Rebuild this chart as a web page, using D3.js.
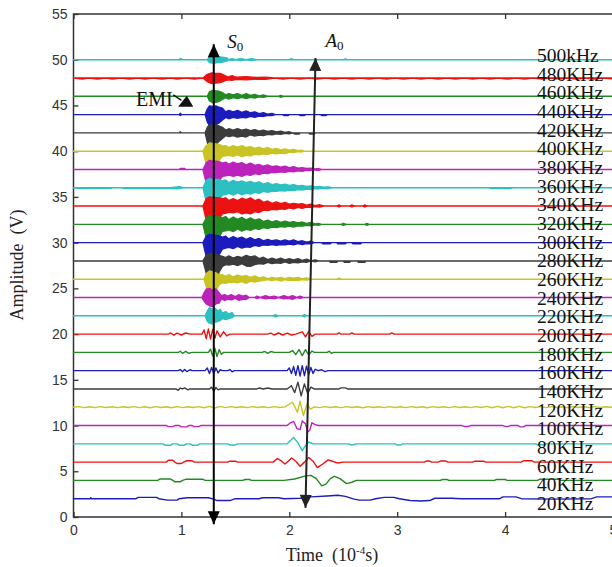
<!DOCTYPE html>
<html>
<head>
<meta charset="utf-8">
<script src="https://cdn.jsdelivr.net/npm/d3@7"></script>
<style>
  html, body { margin: 0; padding: 0; background: #fff; }
  svg { display: block; }
</style>
</head>
<body>
<svg id="chart" width="612" height="567"></svg>
<script>
// ---- Data -------------------------------------------------------------
// Excitation frequencies (bottom to top) and the vertical offset of each record (V)
const freqLabels = ["20KHz","40KHz","60KHz","80KHz","100KHz","120KHz","140KHz","160KHz",
  "180KHz","200KHz","220KHz","240KHz","260KHz","280KHz","300KHz","320KHz","340KHz",
  "360KHz","380KHz","400KHz","420KHz","440KHz","460KHz","480KHz","500kHz"];
const offsets = [2,4,6,8,10,12,14,16,18,20,22,24,26,28,30,32,34,36,38,40,42,44,46,48,50];
const xTicks = [0,1,2,3,4,5];
const yTicks = [0,5,10,15,20,25,30,35,40,45,50,55];

// Each record: [time (1e-4 s), deviation (V)] or [time, upper, lower] where the
// high-frequency burst is too dense to resolve into single cycles.
const w20 = [[0,0],[0.155,0],[0.16,0.12],[0.165,0],[0.58,0],[0.6,0.15],[0.77,0.15],[0.79,0],
  [0.87,-0.15],[0.96,-0.15],[0.98,0],[1.05,0.1],[1.25,0.1],[1.3,-0.05],[1.33,-0.2],[1.45,-0.2],
  [1.5,0],[1.72,0],[1.75,0.1],[1.9,0.1],[1.95,0],[2.1,0.05],[2.2,0.2],[2.35,0.3],[2.45,0.38],
  [2.52,0.25],[2.6,-0.05],[2.65,-0.15],[2.75,-0.15],[2.8,0],[2.88,0.15],[2.97,0.15],[3.02,0],
  [3.12,-0.2],[3.22,-0.25],[3.3,-0.2],[3.35,0.05],[3.5,0.05],[3.6,0],[3.95,0],[3.98,0.2],
  [4.1,0.2],[4.15,0],[4.45,-0.05],[4.8,0],[4.85,0.2],[5,0.2]];
const w40 = [[0,0],[0.78,0],[0.8,0.15],[0.9,0.15],[0.92,0],[0.94,-0.15],[0.99,-0.15],[1.01,0],
  [1.04,0.12],[1.2,0.12],[1.22,0],[1.57,0],[1.59,0.1],[1.63,0.1],[1.65,0],[1.95,0],[2.05,0.15],
  [2.15,0.5],[2.2,0.55],[2.25,0.2],[2.3,-0.6],[2.34,-0.4],[2.38,0.2],[2.42,0.45],[2.47,0.2],
  [2.53,-0.35],[2.58,-0.2],[2.62,0],[3.4,0],[3.42,0.1],[3.46,0.1],[3.48,0],[3.9,0],[3.92,0.1],
  [4.0,0.1],[4.02,0],[4.3,0],[4.32,0.12],[4.5,0.12],[4.52,0],[5,0]];
const w60 = [[0,0],[0.86,0],[0.88,0.2],[0.92,0.2],[0.94,0],[0.96,-0.15],[1.0,-0.15],[1.02,0],
  [1.05,0.15],[1.1,0.15],[1.12,0],[1.43,0],[1.45,0.1],[1.5,0.1],[1.52,0],[1.85,0],[1.89,0.4],
  [1.93,0.1],[1.96,-0.2],[1.99,0.1],[2.02,0.45],[2.06,0.1],[2.1,-0.45],[2.14,0],[2.18,0.5],
  [2.22,0.1],[2.26,-0.6],[2.31,-0.2],[2.36,0.25],[2.4,0.1],[2.45,-0.1],[2.5,0],[3.25,0],
  [3.27,0.12],[3.3,0.12],[3.32,0],[3.38,0],[3.4,0.12],[3.45,0.12],[3.47,0],[3.7,0],[3.72,0.1],
  [3.8,0.1],[3.82,0],[4.15,0],[4.17,0.15],[4.25,0.15],[4.27,0],[5,0]];
const w80 = [[0,0],[0.83,0],[0.85,-0.15],[0.9,-0.15],[0.92,0],[0.96,0],[0.98,-0.15],[1.03,-0.15],
  [1.05,0],[1.08,0],[1.1,-0.15],[1.15,-0.15],[1.17,0],[1.43,0],[1.45,-0.12],[1.5,-0.12],[1.52,0],
  [1.98,0],[2.04,0.7],[2.08,0.1],[2.12,-0.75],[2.15,-0.2],[2.18,0.2],[2.22,0],[2.55,0],
  [2.57,-0.1],[2.6,-0.1],[2.62,0],[2.98,0],[3.0,-0.12],[3.03,-0.12],[3.05,0],[4.28,0],
  [4.3,-0.1],[4.35,-0.1],[4.37,0],[5,0]];
const w100 = [[0,0],[0.86,0],[0.88,-0.12],[0.92,-0.12],[0.94,0],[0.98,0],[1.0,-0.15],[1.05,-0.15],
  [1.07,0],[1.1,0],[1.12,-0.12],[1.16,-0.12],[1.18,0],[1.98,0],[2.01,0.3],[2.04,0.45],
  [2.07,-0.3],[2.1,-0.45],[2.12,0.5],[2.15,0.2],[2.17,-0.7],[2.19,-0.5],[2.21,0.3],[2.24,0.1],
  [2.27,0],[3.6,0],[3.62,-0.1],[3.66,-0.1],[3.68,0],[3.98,0],[4.0,-0.1],[4.03,-0.1],[4.05,0],
  [4.12,0],[4.14,-0.15],[4.17,-0.15],[4.19,0],[5,0]];
const w120 = [[0,0],[0.05,0.07],[0.1,-0.04],[0.15,0.06],[0.2,-0.04],[0.25,0.07],[0.3,-0.03],
  [0.36,0.06],[0.41,-0.04],[0.46,0.06],[0.51,-0.03],[0.56,0.07],[0.61,-0.04],[0.66,0.06],
  [0.71,-0.05],[0.76,0.07],[0.81,-0.03],[0.86,0.06],[0.91,-0.05],[0.96,0.07],[1.01,-0.04],
  [1.06,0.06],[1.11,-0.03],[1.16,0.07],[1.21,-0.05],[1.26,0.1],[1.31,-0.08],[1.36,0.09],
  [1.41,-0.04],[1.46,0.07],[1.51,-0.03],[1.56,0.06],[1.61,-0.04],[1.66,0.07],[1.71,-0.03],
  [1.76,0.06],[1.81,-0.04],[1.86,0.07],[1.91,-0.03],[1.96,0.04],[2.03,0.55],[2.075,-0.55],
  [2.1,0.65],[2.13,-0.9],[2.165,0.35],[2.195,-0.2],[2.23,0.04],[2.28,-0.04],[2.33,0.07],
  [2.38,-0.03],[2.43,0.06],[2.48,-0.04],[2.53,0.07],[2.58,-0.03],[2.63,0.06],[2.68,-0.05],
  [2.73,0.07],[2.78,-0.03],[2.83,0.06],[2.88,-0.04],[2.93,0.07],[2.98,-0.03],[3.03,0.06],
  [3.08,-0.04],[3.13,0.07],[3.18,-0.03],[3.23,0.06],[3.28,-0.05],[3.33,0.07],[3.38,-0.03],
  [3.43,0.06],[3.48,-0.04],[3.53,0.07],[3.58,-0.03],[3.63,0.06],[3.68,-0.04],[3.73,0.07],
  [3.78,-0.03],[3.83,0.09],[3.88,-0.05],[3.93,0.09],[3.98,-0.06],[4.03,0.09],[4.08,-0.05],
  [4.13,0.09],[4.18,-0.06],[4.23,0.07],[4.28,-0.03],[4.33,0.07],[4.38,-0.04],[4.43,0.07],
  [4.48,-0.03],[4.53,0.06],[4.58,-0.04],[4.63,0.07],[4.68,-0.03],[4.73,0.06],[4.78,-0.04],
  [4.83,0.07],[4.88,-0.03],[4.93,0.06],[5,0]];
const w140 = [[0,0],[0.95,0],[0.97,-0.15],[0.99,0.1],[1.01,0],[1.03,0.12],[1.06,-0.1],[1.08,0],
  [1.26,0],[1.28,0.2],[1.3,-0.25],[1.32,0.15],[1.34,-0.1],[1.36,0],[1.7,0],[1.72,0.1],[1.76,0],
  [1.8,0.1],[1.84,0],[1.98,0],[2.02,0.35],[2.05,-0.4],[2.08,0.75],[2.11,-0.75],[2.14,0.55],
  [2.17,-0.5],[2.2,0.2],[2.23,0],[2.46,0],[2.48,0.12],[2.52,0.12],[2.54,0],[5,0]];
const w160 = [[0,0],[0.97,0],[0.99,0.12],[1.01,-0.12],[1.03,0.12],[1.05,-0.1],[1.08,0.1],[1.1,0],
  [1.22,0],[1.24,0.3],[1.26,-0.3],[1.28,0.35],[1.3,-0.35],[1.32,0.3],[1.34,-0.25],[1.36,0.1],
  [1.38,0],[1.43,0],[1.45,0.12],[1.47,-0.12],[1.49,0],[1.98,0],[2.0,0.3],[2.02,-0.3],[2.04,0.45],
  [2.06,-0.5],[2.08,0.55],[2.1,-0.6],[2.12,0.55],[2.14,-0.55],[2.16,0.5],[2.18,-0.45],[2.2,0.35],
  [2.22,-0.3],[2.24,0.15],[2.27,0],[2.3,0.1],[2.33,-0.1],[2.36,0],[5,0]];
const w180 = [[0,0],[0.97,0],[0.99,0.12],[1.01,-0.1],[1.04,0.12],[1.07,-0.1],[1.1,0],[1.25,0],
  [1.27,0.35],[1.29,-0.4],[1.31,0.45],[1.33,-0.45],[1.35,0.3],[1.37,-0.2],[1.39,0],[1.75,0],
  [1.77,0.1],[1.8,-0.1],[1.83,0.1],[1.86,0],[2.0,0],[2.03,0.2],[2.06,-0.25],[2.09,0.3],
  [2.12,-0.35],[2.15,0.3],[2.18,-0.3],[2.21,0.15],[2.23,0],[2.35,0],[2.37,0.12],[2.39,-0.1],
  [2.41,0],[5,0]];
const w200 = [[0,0],[0.88,0],[0.9,0.12],[0.93,-0.12],[0.96,0.1],[1.0,-0.1],[1.04,0.12],[1.08,0],
  [1.19,0],[1.21,0.45],[1.23,-0.5],[1.25,0.55],[1.27,-0.55],[1.29,0.5],[1.31,-0.45],[1.33,0.35],
  [1.36,-0.3],[1.39,0.25],[1.42,-0.2],[1.45,0],[1.8,0],[1.83,0.1],[1.86,-0.1],[1.9,0.12],
  [1.94,-0.1],[1.98,0.1],[2.02,-0.1],[2.06,0],[2.12,0.25],[2.15,-0.3],[2.18,0.3],[2.21,-0.25],
  [2.24,0],[2.44,0],[2.46,0.15],[2.48,0],[2.56,0],[2.58,0.12],[2.6,0],[2.93,0],[2.95,0.12],
  [2.97,0],[5,0]];
const w220 = [[0,0,0],[1.22,0,0],[1.24,0.5,-0.6],[1.26,0.9,-0.8],[1.29,0.7,-0.9],[1.31,0.85,-0.7],
  [1.34,0.5,-0.6],[1.36,0.7,-0.5],[1.38,0.3,-0.3],[1.41,0.45,-0.4],[1.44,0.2,-0.3],[1.47,0.35,-0.2],
  [1.49,0,0],[1.85,0,0],[1.87,0.12,-0.12],[1.9,0,0],[2.12,0,0],[2.14,0.12,-0.12],[2.16,0,0],[5,0,0]];
const w240 = [[0,0,0],[1.19,0,0],[1.21,0.5,-0.4],[1.23,0.9,-0.7],[1.26,1.0,-0.9],[1.29,0.8,-1.0],
  [1.32,0.95,-0.7],[1.35,0.5,-0.6],[1.37,0.2,-0.15],[1.4,0.3,-0.3],[1.43,0.15,-0.2],[1.46,0.3,-0.25],
  [1.5,0.1,-0.1],[1.53,0.3,-0.3],[1.57,0.15,-0.2],[1.6,0.25,-0.2],[1.63,0,0],[1.68,0,0],
  [1.7,0.15,-0.12],[1.73,0,0],[1.78,0.2,-0.15],[1.82,0.05,-0.05],[1.86,0.15,-0.15],[1.9,0,0],
  [1.95,0.2,-0.15],[1.99,0.05,-0.1],[2.03,0.2,-0.2],[2.07,0,0],[2.1,0.15,-0.1],[2.13,0,0],[5,0,0]];
const w260 = [[0,0,0],[1.21,0,0],[1.23,0.6,-0.8],[1.26,0.9,-2.2],[1.29,0.8,-1.9],[1.32,0.7,-1.2],
  [1.35,0.45,-0.6],[1.38,0.5,-0.4],[1.41,0.3,-0.45],[1.44,0.5,-0.35],[1.48,0.25,-0.3],
  [1.52,0.45,-0.4],[1.56,0.3,-0.25],[1.6,0.4,-0.45],[1.64,0.2,-0.2],[1.68,0.35,-0.3],
  [1.72,0.15,-0.2],[1.76,0.25,-0.15],[1.8,0.05,-0.05],[1.84,0.2,-0.15],[1.88,0.1,-0.05],
  [1.92,0.2,-0.2],[1.96,0.05,-0.05],[2.0,0.2,-0.15],[2.04,0.1,-0.1],[2.08,0.2,-0.15],
  [2.12,0.05,-0.05],[2.16,0.15,-0.1],[2.2,0,0],[2.44,0,0],[2.46,0.12,0],[2.48,0,0],[5,0,0]];
const w280 = [[0,0,0],[1.2,0,0],[1.23,0.6,-1.3],[1.26,0.8,-4.5],[1.29,0.75,-4.0],[1.32,0.7,-2.5],
  [1.35,0.6,-1.2],[1.38,0.5,-0.6],[1.41,0.35,-0.4],[1.44,0.55,-0.45],[1.48,0.3,-0.35],
  [1.52,0.5,-0.5],[1.56,0.35,-0.3],[1.6,0.6,-0.55],[1.64,0.45,-0.6],[1.68,0.55,-0.4],
  [1.72,0.25,-0.3],[1.76,0.4,-0.35],[1.8,0.15,-0.15],[1.84,0.3,-0.3],[1.88,0.15,-0.2],
  [1.92,0.3,-0.25],[1.96,0.1,-0.1],[2.0,0.25,-0.25],[2.04,0.1,-0.15],[2.08,0.25,-0.2],
  [2.12,0.05,-0.1],[2.16,0.2,-0.15],[2.2,0,0],[2.24,0.12,-0.1],[2.27,0,0],[2.37,0,0],
  [2.38,0,-0.15],[2.44,0,-0.15],[2.45,0,0],[2.5,0,0],[2.51,0,-0.15],[2.56,0,-0.15],[2.57,0,0],
  [2.63,0,0],[2.64,0,-0.15],[2.7,0,-0.15],[2.71,0,0],[5,0,0]];
const w300 = [[0,0,0],[1.2,0,0],[1.23,0.7,-1.5],[1.26,0.9,-4.8],[1.29,0.85,-4.3],[1.32,0.8,-2.6],
  [1.35,0.75,-1.3],[1.38,0.6,-0.7],[1.41,0.7,-0.6],[1.44,0.4,-0.5],[1.48,0.65,-0.65],
  [1.52,0.45,-0.4],[1.56,0.6,-0.6],[1.6,0.35,-0.45],[1.64,0.55,-0.5],[1.68,0.3,-0.3],
  [1.72,0.45,-0.4],[1.76,0.2,-0.25],[1.8,0.35,-0.3],[1.84,0.2,-0.2],[1.88,0.3,-0.3],
  [1.92,0.15,-0.2],[1.96,0.3,-0.25],[2.0,0.15,-0.15],[2.04,0.3,-0.25],[2.08,0.1,-0.1],
  [2.12,0.2,-0.2],[2.16,0.05,-0.1],[2.2,0.15,-0.12],[2.23,0,0],[2.3,0,0],[2.31,0,-0.12],
  [2.38,0,-0.12],[2.39,0,0],[2.44,0,0],[2.45,0,-0.12],[2.52,0,-0.12],[2.53,0,0],[2.58,0,0],
  [2.59,0,-0.12],[2.66,0,-0.12],[2.67,0,0],[5,0,0]];
const w320 = [[0,0,0],[1.2,0,0],[1.23,0.7,-1.5],[1.26,0.95,-5.0],[1.29,0.9,-4.5],[1.32,0.85,-2.8],
  [1.35,0.8,-1.4],[1.38,0.7,-0.75],[1.41,0.85,-0.7],[1.44,0.5,-0.6],[1.48,0.8,-0.8],
  [1.52,0.55,-0.5],[1.56,0.75,-0.75],[1.6,0.5,-0.55],[1.64,0.7,-0.65],[1.68,0.45,-0.45],
  [1.72,0.6,-0.55],[1.76,0.3,-0.35],[1.8,0.45,-0.45],[1.84,0.25,-0.3],[1.88,0.4,-0.35],
  [1.92,0.2,-0.25],[1.96,0.35,-0.3],[2.0,0.2,-0.2],[2.04,0.3,-0.3],[2.08,0.15,-0.15],
  [2.12,0.25,-0.2],[2.16,0.1,-0.1],[2.2,0.2,-0.15],[2.24,0.05,-0.05],[2.27,0.1,-0.1],[2.3,0,0],
  [2.48,0,0],[2.5,0.1,-0.1],[2.53,0,0],[2.7,0,0],[2.72,0.1,-0.1],[2.74,0,0],[5,0,0]];
const w340 = [[0,0,0],[1.2,0,0],[1.23,0.8,-1.5],[1.26,1.0,-4.8],[1.29,0.95,-4.4],[1.32,0.9,-2.8],
  [1.35,0.9,-1.4],[1.38,0.8,-0.85],[1.41,0.9,-0.8],[1.44,0.6,-0.65],[1.48,0.8,-0.75],
  [1.52,0.6,-0.6],[1.56,0.85,-0.85],[1.6,0.7,-0.75],[1.64,0.9,-0.85],[1.68,0.6,-0.6],
  [1.72,0.75,-0.7],[1.76,0.4,-0.45],[1.8,0.55,-0.5],[1.84,0.3,-0.35],[1.88,0.45,-0.4],
  [1.92,0.25,-0.3],[1.96,0.4,-0.35],[2.0,0.2,-0.2],[2.04,0.3,-0.3],[2.08,0.2,-0.15],
  [2.12,0.25,-0.25],[2.16,0.1,-0.1],[2.2,0.2,-0.15],[2.24,0.05,-0.05],[2.28,0.15,-0.1],[2.32,0,0],
  [2.44,0,0],[2.46,0.12,-0.1],[2.48,0,0],[2.56,0,0],[2.58,0.12,-0.1],[2.6,0,0],[2.68,0,0],
  [2.7,0.12,-0.1],[2.72,0,0],[5,0,0]];
const w360 = [[0,0,0],[0.06,0,-0.08],[0.35,0,-0.06],[0.36,0,0],[0.45,0,0],[0.46,0,-0.08],
  [0.9,0,-0.06],[0.98,0.12,-0.1],[1.02,0,0],[1.2,0,0],[1.23,0.8,-1.5],[1.26,1.0,-4.4],
  [1.29,0.9,-4.0],[1.32,0.9,-2.6],[1.35,0.9,-1.3],[1.38,0.75,-0.8],[1.41,0.85,-0.75],
  [1.44,0.55,-0.6],[1.48,0.8,-0.8],[1.52,0.6,-0.55],[1.56,0.75,-0.75],[1.6,0.55,-0.6],
  [1.64,0.7,-0.7],[1.68,0.5,-0.5],[1.72,0.65,-0.6],[1.76,0.4,-0.4],[1.8,0.55,-0.5],
  [1.84,0.35,-0.35],[1.88,0.45,-0.4],[1.92,0.3,-0.3],[1.96,0.4,-0.35],[2.0,0.25,-0.25],
  [2.04,0.35,-0.3],[2.08,0.2,-0.2],[2.12,0.25,-0.25],[2.16,0.15,-0.15],[2.2,0.2,-0.2],
  [2.24,0.1,-0.1],[2.28,0.15,-0.12],[2.32,0.05,-0.05],[2.36,0.1,-0.1],[2.4,0,0],[3.85,0,0],
  [3.87,0,-0.08],[4.05,0,-0.08],[4.07,0,0],[5,0,0]];
const w380 = [[0,0,0],[0.98,0,0],[0.99,0.12,0],[1.03,0.12,0],[1.04,0,0],[1.2,0,0],[1.23,0.7,-1.5],
  [1.26,1.0,-4.2],[1.29,0.9,-3.8],[1.32,0.9,-2.4],[1.35,0.85,-1.2],[1.38,0.7,-0.75],
  [1.41,0.8,-0.7],[1.44,0.55,-0.6],[1.48,0.8,-0.75],[1.52,0.6,-0.6],[1.56,0.75,-0.75],
  [1.6,0.5,-0.55],[1.64,0.7,-0.65],[1.68,0.45,-0.45],[1.72,0.55,-0.55],[1.76,0.35,-0.4],
  [1.8,0.5,-0.45],[1.84,0.3,-0.3],[1.88,0.4,-0.35],[1.92,0.25,-0.25],[1.96,0.35,-0.3],
  [2.0,0.2,-0.2],[2.04,0.3,-0.25],[2.08,0.15,-0.15],[2.12,0.2,-0.2],[2.16,0.1,-0.1],
  [2.2,0.15,-0.12],[2.24,0.05,-0.05],[2.27,0.1,-0.08],[2.3,0,0],[5,0,0]];
const w400 = [[0,0,0],[1.2,0,0],[1.23,0.6,-1.4],[1.26,0.9,-3.5],[1.29,0.85,-3.1],[1.32,0.8,-2.0],
  [1.35,0.75,-1.0],[1.38,0.55,-0.55],[1.41,0.6,-0.5],[1.44,0.4,-0.45],[1.48,0.6,-0.55],
  [1.52,0.45,-0.4],[1.56,0.6,-0.6],[1.6,0.4,-0.45],[1.64,0.5,-0.5],[1.68,0.3,-0.35],
  [1.72,0.45,-0.4],[1.76,0.25,-0.3],[1.8,0.4,-0.35],[1.84,0.2,-0.2],[1.88,0.3,-0.3],
  [1.92,0.15,-0.2],[1.96,0.25,-0.25],[2.0,0.1,-0.1],[2.04,0.2,-0.15],[2.08,0.05,-0.05],
  [2.11,0.12,-0.1],[2.14,0,0],[5,0,0]];
const w420 = [[0,0,0],[0.98,0,0],[0.99,0.12,0],[1.0,0,0],[1.22,0,0],[1.24,0.6,-1.0],[1.26,0.9,-1.9],
  [1.29,0.85,-1.8],[1.32,0.85,-1.3],[1.35,0.75,-0.9],[1.38,0.6,-0.6],[1.41,0.3,-0.3],
  [1.44,0.45,-0.4],[1.48,0.3,-0.3],[1.52,0.45,-0.45],[1.56,0.3,-0.35],[1.6,0.4,-0.45],
  [1.64,0.25,-0.2],[1.68,0.35,-0.35],[1.72,0.2,-0.25],[1.76,0.3,-0.3],[1.8,0.15,-0.15],
  [1.84,0.25,-0.2],[1.88,0.1,-0.1],[1.92,0.2,-0.15],[1.96,0.05,-0.05],[2.0,0.12,-0.1],[2.03,0,0],
  [2.05,0,-0.12],[2.09,0,-0.12],[2.1,0,0],[2.18,0,0],[2.19,0,-0.12],[2.23,0,-0.12],[2.24,0,0],
  [5,0,0]];
const w440 = [[0,0,0],[0.98,0,0],[0.99,0.15,-0.1],[1.0,0,0],[1.22,0,0],[1.24,0.6,-0.8],
  [1.26,0.95,-1.2],[1.29,0.9,-1.2],[1.32,0.95,-1.1],[1.35,0.8,-0.9],[1.38,0.7,-0.6],
  [1.41,0.3,-0.3],[1.44,0.45,-0.45],[1.48,0.3,-0.3],[1.52,0.45,-0.4],[1.56,0.25,-0.3],
  [1.6,0.4,-0.35],[1.64,0.2,-0.2],[1.68,0.3,-0.3],[1.72,0.1,-0.15],[1.76,0.2,-0.2],
  [1.8,0.05,-0.1],[1.84,0.12,-0.1],[1.87,0,0],[1.94,0,0],[1.95,0,-0.1],[1.99,0,-0.1],[2.0,0,0],
  [2.09,0,0],[2.1,0,-0.1],[2.14,0,-0.1],[2.15,0,0],[2.29,0,0],[2.3,0,-0.1],[2.34,0,-0.1],
  [2.35,0,0],[5,0,0]];
const w460 = [[0,0,0],[1.24,0,0],[1.26,0.5,-0.5],[1.29,0.65,-0.7],[1.32,0.6,-0.65],[1.35,0.55,-0.55],
  [1.38,0.4,-0.35],[1.41,0.15,-0.15],[1.44,0.3,-0.3],[1.48,0.15,-0.15],[1.52,0.3,-0.25],
  [1.56,0.1,-0.1],[1.6,0.3,-0.25],[1.64,0.1,-0.1],[1.68,0.2,-0.2],[1.72,0.05,-0.05],
  [1.76,0.15,-0.1],[1.8,0,0],[1.9,0,0],[1.92,0.1,-0.1],[1.95,0,0],[5,0,0]];
const w480 = [[0,0,0],[0.08,0,-0.12],[0.14,0,0],[0.22,0,-0.1],[0.3,0,0],[0.36,0,-0.12],
  [0.44,0,0],[0.52,0,-0.12],[0.6,0,0],[0.66,0,-0.1],[0.74,0,0],[0.82,0,-0.12],[0.9,0,0],
  [0.96,0,-0.1],[1.04,0,0],[1.12,0,-0.12],[1.2,0,0],
  [1.24,0.4,-0.4],[1.28,0.55,-0.6],[1.32,0.5,-0.55],[1.36,0.5,-0.5],[1.4,0.3,-0.3],[1.43,0.1,-0.2],
  [1.47,0.25,-0.25],[1.51,0.08,-0.15],[1.6,0.15,-0.2],[1.7,0.05,-0.1],[1.78,0.1,-0.15],
  [1.86,0,0],[1.94,0,-0.12],[2.02,0,0],[2.1,0,-0.12],[2.18,0,0],[2.26,0,-0.1],[2.34,0,0],
  [2.42,0,-0.12],[2.5,0,0],[2.58,0,-0.1],[2.66,0,0],[2.74,0,-0.12],[2.82,0,0],[2.9,0,-0.1],
  [2.98,0,0],[3.06,0,-0.12],[3.14,0,0],[3.22,0,-0.1],[3.3,0,0],[3.38,0,-0.12],[3.46,0,0],
  [3.54,0,-0.1],[3.62,0,0],[3.7,0,-0.12],[3.78,0,0],[3.86,0,-0.1],[3.94,0,0],[4.02,0,-0.12],
  [4.1,0,0],[4.18,0,-0.1],[4.26,0,0],[4.34,0,-0.12],[4.42,0,0],[4.5,0,-0.1],[4.58,0,0],
  [4.66,0,-0.12],[4.74,0,0],[4.82,0,-0.1],[4.9,0,0],[5,0,-0.08]];
const w500 = [[0,0,0],[0.98,0,0],[0.99,0.15,0],[1.0,0.1,0],[1.01,0,0],[1.24,0,0],[1.26,0.3,-0.3],
  [1.3,0.35,-0.4],[1.33,0.25,-0.3],[1.36,0.3,-0.3],[1.42,0.2,-0.15],[1.44,0,0],[1.47,0.12,-0.1],
  [1.5,0,0],[1.55,0.12,-0.1],[1.6,0,0],[1.65,0.1,-0.1],[1.7,0,0],[2.0,0,0],[2.02,0.12,0],
  [2.04,0,0],[2.5,0,0],[2.52,0.1,0],[2.54,0,0],[5,0,0]];

const records = [w20,w40,w60,w80,w100,w120,w140,w160,w180,w200,w220,w240,w260,w280,w300,
  w320,w340,w360,w380,w400,w420,w440,w460,w480,w500];

// Guided-wave mode markers and the EMI pointer, in data units (time, V)
const s0Arrow = [[1.30,-0.8],[1.30,51.7]];
const a0Arrow = [[2.15,1.0],[2.243,50.2]];
const emiPointer = [[0.925,46.15],[1.0,45.55]];
const emiMark = [[1.05,46.05],[0.97,44.85],[1.11,44.85]];
const modeLabels = [{main:"S", sub:"0", t:1.425, v:51.3}, {main:"A", sub:"0", t:2.335, v:51.4}];
const emiLabel = {text:"EMI", t:0.58, v:44.95};

// ---- Drawing ----------------------------------------------------------
const palette = ["#1c1cbc","#238a23","#ec1212","#2cc0c0","#bc22bc","#c9c323","#3c3c3c"];
const svg = d3.select("#chart");
const x = d3.scaleLinear().domain([0,5]).range([73.5, 613]);
const y = d3.scaleLinear().domain([0,55]).range([517, 14]);
const serif = "'Liberation Serif','Times New Roman',serif";
const sans = "'Liberation Sans',Arial,sans-serif";

svg.append("rect").attr("width",612).attr("height",567).attr("fill","#fff");

// frame
svg.append("rect")
  .attr("x", x(0)).attr("y", y(55))
  .attr("width", x(5)-x(0)).attr("height", y(0)-y(55))
  .attr("fill","none").attr("stroke","#333").attr("stroke-width",1.5);

// axes with inward ticks
const gx = svg.append("g").attr("transform",`translate(0,${y(0)})`)
  .call(d3.axisBottom(x).tickValues(xTicks).tickFormat(d3.format("d")).tickSize(-5).tickPadding(8));
const gxTop = svg.append("g").attr("transform",`translate(0,${y(55)})`)
  .call(d3.axisTop(x).tickValues(xTicks).tickFormat("").tickSize(-5));
const gy = svg.append("g").attr("transform",`translate(${x(0)},0)`)
  .call(d3.axisLeft(y).tickValues(yTicks).tickFormat(d3.format("d")).tickSize(-5).tickPadding(6));
[gx,gxTop,gy].forEach(g => {
  g.select(".domain").remove();
  g.selectAll(".tick line").attr("stroke","#333").attr("stroke-width",1.3);
  g.selectAll("text").attr("font-family",sans).attr("font-size",14).attr("fill","#333");
});

// waveforms, top record first so lower records sit over the downward S0 swings
const area = d3.area()
  .x(p => x(p[0]))
  .y0(p => p.lo)
  .y1(p => p.hi);
const order = d3.range(records.length).reverse();
const gw = svg.append("g");
order.forEach(i => {
  const off = offsets[i];
  const pts = records[i].map(p => {
    const hi = p[1], lo = p.length > 2 ? p[2] : p[1];
    const q = [p[0]]; q.hi = y(off + hi); q.lo = y(off + lo); return q;
  });
  const c = palette[i % palette.length];
  gw.append("path").attr("d", area(pts))
    .attr("fill", c).attr("stroke", c).attr("stroke-width", 1.4)
    .attr("stroke-linejoin","round");
});

// frequency labels at the right end of each record
const labelY = d3.scaleLinear().domain([0, freqLabels.length-1]).range([510, 62]);
svg.append("g").selectAll("text").data(freqLabels).join("text")
  .attr("x", 537).attr("y", (d,i) => labelY(i))
  .attr("font-family", serif).attr("font-size", 19.5).attr("fill","#111")
  .text(d => d);

// arrows
function arrowHead(g, tip, tail, len, half, color) {
  const dx = tip[0]-tail[0], dy = tip[1]-tail[1], L = Math.hypot(dx,dy);
  const ux = dx/L, uy = dy/L, bx = tip[0]-ux*len, by = tip[1]-uy*len;
  g.append("path")
    .attr("d", `M${tip[0]},${tip[1]}L${bx-uy*half},${by+ux*half}L${bx+uy*half},${by-ux*half}Z`)
    .attr("fill", color);
}
function doubleArrow(pts, color) {
  const a = [x(pts[0][0]), y(pts[0][1])], b = [x(pts[1][0]), y(pts[1][1])];
  const g = svg.append("g");
  g.append("line").attr("x1",a[0]).attr("y1",a[1]).attr("x2",b[0]).attr("y2",b[1])
    .attr("stroke", color).attr("stroke-width", 2);
  arrowHead(g, a, b, 13, 6, color);
  arrowHead(g, b, a, 13, 6, color);
}
doubleArrow(s0Arrow, "#000");
doubleArrow(a0Arrow, "#222");

// mode labels
modeLabels.forEach(m => {
  const t = svg.append("text").attr("x", x(m.t)).attr("y", y(m.v))
    .attr("font-family", serif).attr("font-size", 19).attr("fill","#111");
  t.append("tspan").attr("font-style","italic").text(m.main);
  t.append("tspan").attr("font-size", 13).attr("dy", 3).text(m.sub);
});

// EMI annotation
svg.append("text").attr("x", x(emiLabel.t)).attr("y", y(emiLabel.v))
  .attr("font-family", serif).attr("font-size", 20).attr("fill","#111").text(emiLabel.text);
svg.append("line")
  .attr("x1", x(emiPointer[0][0])).attr("y1", y(emiPointer[0][1]))
  .attr("x2", x(emiPointer[1][0])).attr("y2", y(emiPointer[1][1]))
  .attr("stroke","#111").attr("stroke-width",1.5);
svg.append("path")
  .attr("d", d3.line().x(p => x(p[0])).y(p => y(p[1]))(emiMark) + "Z")
  .attr("fill","#111");

// axis titles
const xt = svg.append("text").attr("x", 332).attr("y", 561).attr("text-anchor","middle")
  .attr("font-family", serif).attr("font-size", 18).attr("fill","#222");
xt.append("tspan").text("Time\u2002(10");
xt.append("tspan").attr("font-size", 11).attr("dy", -7).text("-4");
xt.append("tspan").attr("dy", 7).text("s)");

svg.append("text").attr("transform","translate(23,265) rotate(-90)")
  .attr("text-anchor","middle").attr("font-family", serif).attr("font-size", 18).attr("fill","#222")
  .text("Amplitude\u2002(V)");
</script>
</body>
</html>
